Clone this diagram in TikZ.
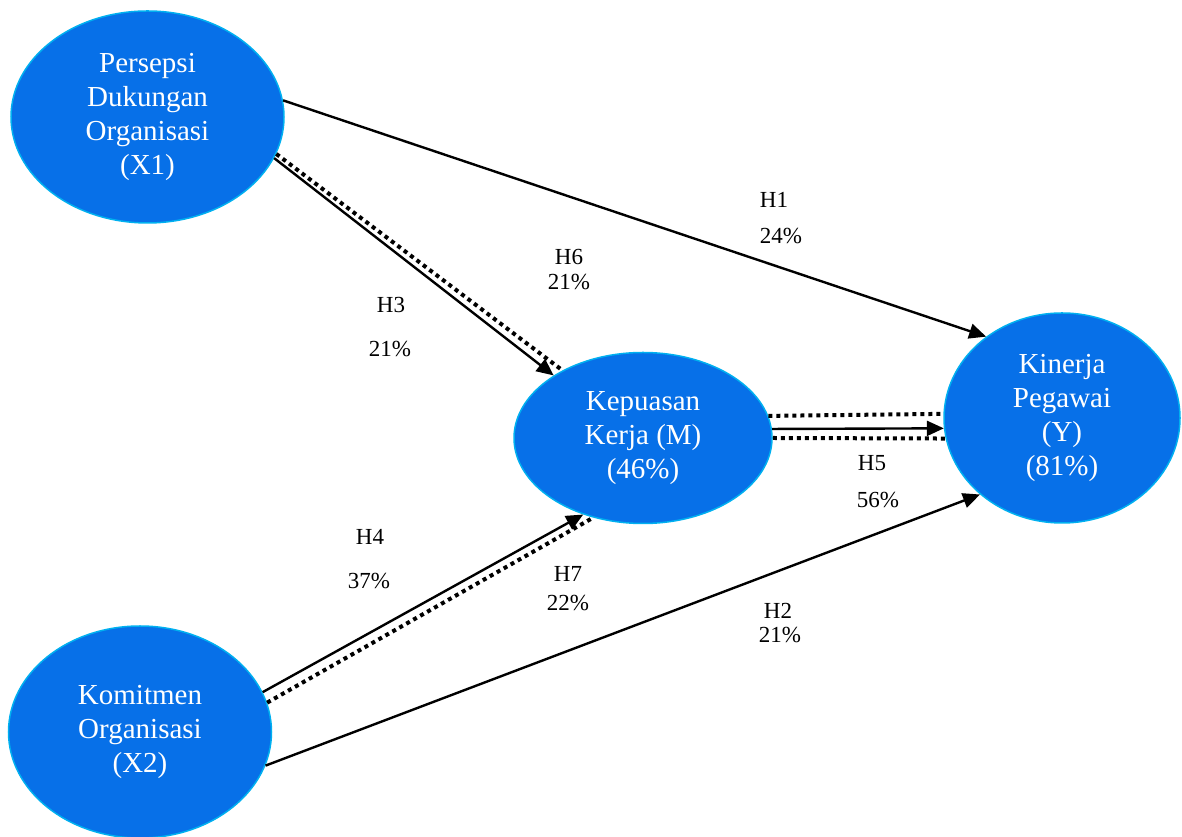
\documentclass[tikz,border=0pt]{standalone}
\usepackage{fontspec}
\setmainfont{Liberation Serif}
\usetikzlibrary{arrows.meta,shapes.geometric}
\definecolor{varfill}{RGB}{7,112,232}
\definecolor{varline}{RGB}{0,176,240}
\begin{document}
\begin{tikzpicture}[x=1pt,y=1pt,font=\fontsize{23}{27}\selectfont,
  var/.style={ellipse,fill=varfill,draw=varline,line width=1.5pt,inner sep=0pt,text=white,align=center,font=\fontsize{29}{34}\selectfont},
  path/.style={line width=2.4pt,-{Triangle[length=17pt,width=15pt]}},
  ind/.style={line width=4pt,dash pattern=on 4pt off 4pt}]
\useasboundingbox(0,0)rectangle(1182,837);
\node[var,minimum width=273,minimum height=212](X1)at(147.5,720){Persepsi\\Dukungan\\Organisasi\\(X1)};
\node[var,minimum width=258,minimum height=171](M)at(643,399){Kepuasan\\Kerja (M)\\(46\%)};
\node[var,minimum width=236,minimum height=210](Y)at(1062,419){Kinerja\\Pegawai\\(Y)\\(81\%)};
\node[var,minimum width=263,minimum height=212](X2)at(140,105){Komitmen\\Organisasi\\(X2)};
% direct paths
\draw[path](X1.7)--(Y.133);
\draw[path](X1.-18)--(M.145);
\draw[path](M.4)--(Y.-175);
\draw[path](X2.18)--(M.-128);
\draw[path](X2.-15)--(Y.-137);
% indirect paths
\draw[ind](X1.-16)--(M.140);
\draw[ind](M.10)--(Y.178);
\draw[ind](M.0)--(Y.-170);
\draw[ind](X2.13)--(M.-122);
% labels
\node(h1)at(774,637){H1};\node(v1)at(781,601){24\%};
\node(h6)at(569,580){H6};\node(v6)at(569,555){21\%};
\node(h3)at(391,532){H3};\node(v3)at(390,488){21\%};
\node(h5)at(872,374){H5};\node(v5)at(878,337){56\%};
\node(h4)at(370,300){H4};\node(v4)at(369,256){37\%};
\node(h7)at(568,263){H7};\node(v7)at(568,234){22\%};
\node(h2)at(778,226){H2};\node(v2)at(780,202){21\%};
\end{tikzpicture}
\end{document}
